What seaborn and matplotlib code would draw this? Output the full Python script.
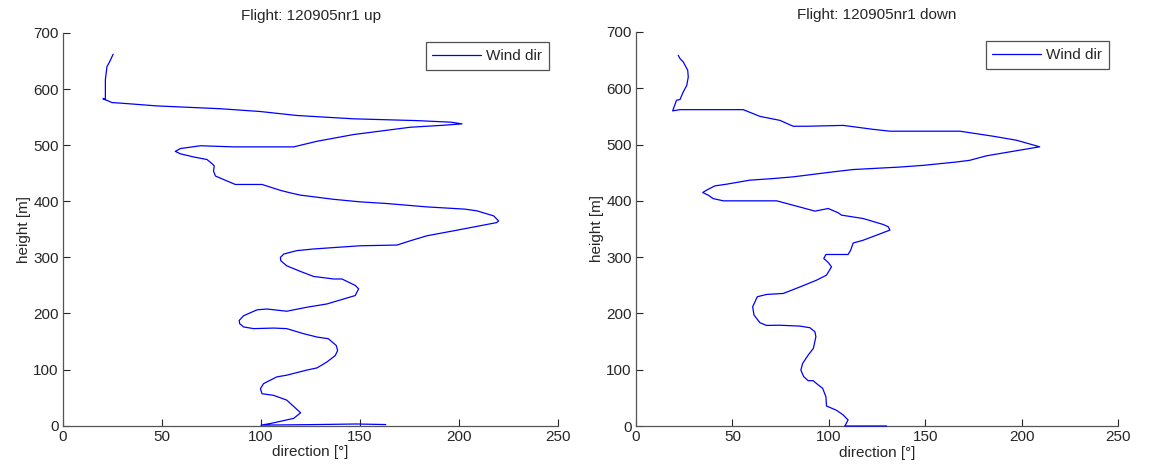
import matplotlib
matplotlib.use("Agg")
import matplotlib.pyplot as plt
import seaborn as sns
import pandas as pd

# ---- data ----
dir_up = [163, 148, 128, 100, 105, 116.5, 120, 113, 106.4, 100.5, 99.7, 101.3, 108, 113, 123, 128.3,
          133.3, 137.5, 138.7, 138, 134, 128.3, 121.5, 113, 106.4, 96.3, 91.2, 89.2, 89, 91.2, 98, 103,
          113, 123, 133.3, 139, 147.6, 149.3, 147.6, 140.9, 136.7, 126.6, 119.9, 113, 110, 109.8, 111.5,
          118, 126.6, 150, 168.7, 175.4, 183.8, 199, 219, 220, 217.5, 209, 203, 183.8, 163.6, 150, 136.7,
          119.9, 114.8, 109.8, 100.5, 87, 81, 77, 76, 76.4, 75.3, 72.7, 66, 59.3, 56.7, 59.3, 69.4, 86,
          116.5, 128.3, 146.8, 175.4, 192, 201.5, 196, 178.8, 146.8, 118, 99.7, 79.5, 47.5, 29, 24.7,
          20.2, 21.4, 21.4, 22.2, 23.6, 25.3]
h_up = [2, 3, 2, 1, 4, 13, 23, 45.6, 54, 57, 66, 75, 87, 90, 99, 103, 113.6, 125, 134, 143, 155, 158,
        164, 173, 174, 173, 176, 182, 187.6, 196, 206.5, 208, 204, 211, 217, 223, 232, 244, 250, 261.5,
        261.5, 266, 275, 285, 294, 300, 306, 312, 315, 320.7, 322, 329.6, 338.5, 348.5, 362, 365, 374,
        383, 386, 390, 396, 399, 403.5, 411, 415, 419.5, 430, 430, 439, 445, 454, 463, 467, 474.5, 479,
        484.6, 489, 494, 499, 497, 497, 507, 519, 532, 535.5, 538, 541, 543.8, 547, 553, 560, 565, 570,
        575, 576, 583, 581, 616.6, 640, 649, 662]

dir_dn = [130, 108.3, 110, 107.5, 104, 98.8, 98.5, 96.8, 94.5, 91.9, 89.3, 87, 85.5, 86.4, 89.3, 92,
          93.3, 92.8, 90.2, 85, 74.6, 67.7, 64.3, 61.2, 60.5, 62.9, 67.7, 76.4, 85, 93.6, 98.8, 101.4,
          99.7, 97.4, 98.5, 110, 111.3, 112.6, 117.8, 131.7, 130.8, 128.2, 117.8, 106.6, 104.9, 99.7,
          97.1, 92.8, 85, 73, 45.3, 40, 37.5, 34.6, 36.6, 40.9, 47, 59, 71.2, 81.5, 102.3, 112.6, 136.8,
          148.9, 166.2, 173.1, 181.8, 209.4, 197.3, 185.2, 168, 131.7, 123, 107.5, 88.5, 81.5, 74.6,
          64.3, 55.6, 22.8, 19, 21, 22.8, 24.5, 26.3, 27.1, 26.8, 24.5, 22.8, 21.9]
h_dn = [0, 0, 10.7, 19.5, 28, 35.5, 52, 67, 73, 80.5, 80.5, 87.6, 99.4, 111, 126, 138, 158.6, 167.5,
        174.6, 177.5, 179, 178.7, 183.4, 197, 211.8, 229.6, 233.7, 235.5, 247, 259, 268, 282.8, 290.5,
        297.6, 304.7, 304.7, 312, 325, 330, 348, 354, 358, 368.6, 374.6, 378.7, 386.4, 384.6, 381.7,
        389, 400, 400, 404, 410, 414.8, 419, 426.6, 429.6, 436.7, 439.6, 442.6, 451.5, 455.6, 460, 463,
        469, 472, 480, 496, 507.7, 514.8, 523.7, 523.7, 527, 534, 532.5, 532.5, 543, 550, 562, 562,
        559.8, 578.7, 580, 593.5, 605, 620, 632, 646.7, 652.7, 658.6]

titles = ["Flight: 120905nr1 up", "Flight: 120905nr1 down"]
x_ticks = [0, 50, 100, 150, 200, 250]
y_ticks = [0, 100, 200, 300, 400, 500, 600, 700]
series_label = "Wind dir"

# ---- style ----
sns.set_style("ticks")
plt.rcParams['font.family'] = ['Liberation Sans', 'DejaVu Sans']
plt.rcParams['font.size'] = 10

fig = plt.figure(figsize=(11.56, 4.70), dpi=100)
ax1 = fig.add_axes([0.0545, 0.0943, 0.4282, 0.8355])
ax2 = fig.add_axes([0.5502, 0.0936, 0.4169, 0.8384])

for ax, xs, ys, title in [(ax1, dir_up, h_up, titles[0]), (ax2, dir_dn, h_dn, titles[1])]:
    df = pd.DataFrame({"direction": xs, "height": ys})
    sns.lineplot(data=df, x="direction", y="height", sort=False, estimator=None,
                 color="#0000ff", linewidth=0.9, ax=ax, label=series_label)
    for ln in ax.lines:
        ln.set_clip_on(False)
        ln.set_zorder(3)
    ax.set_xlim(0, 250)
    ax.set_ylim(0, 700)
    ax.set_xticks(x_ticks)
    ax.set_yticks(y_ticks)
    ax.set_xlabel("direction [°]", fontsize=11, color="#262626", labelpad=1)
    ax.set_ylabel("height [m]", fontsize=11, color="#262626", labelpad=2)
    ax.set_title(title, fontsize=11, color="#262626", pad=9)
    ax.tick_params(direction="in", length=5, width=0.8, colors="#262626", labelsize=11, pad=3)
    for s in ["top", "right"]:
        ax.spines[s].set_visible(False)
    for s in ["left", "bottom"]:
        ax.spines[s].set_color("#555555")
        ax.spines[s].set_linewidth(0.9)
    leg = ax.legend(loc="upper right", fancybox=False, frameon=True, edgecolor="#262626",
                    fontsize=11, handlelength=3.2, borderpad=0.45, borderaxespad=0.6,
                    handletextpad=0.3)
    leg.get_frame().set_linewidth(0.9)
    leg.set_zorder(5)

fig.savefig("out.png", dpi=100, facecolor="white")
